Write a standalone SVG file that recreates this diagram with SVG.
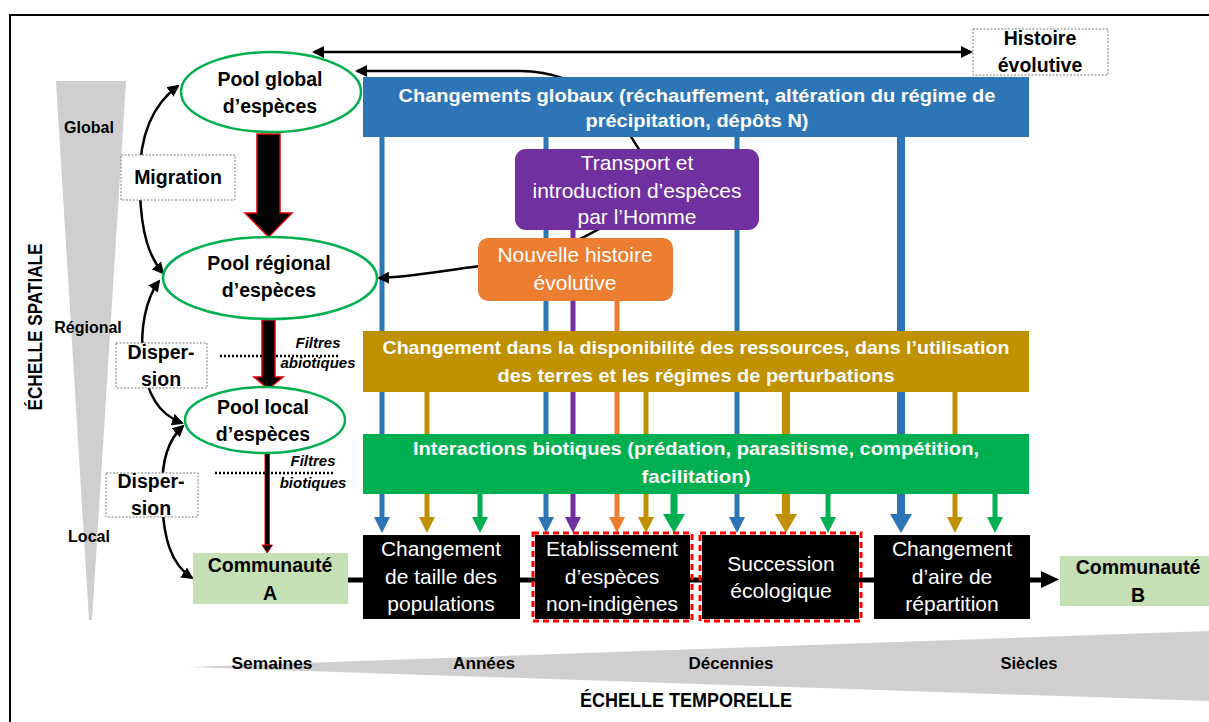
<svg xmlns="http://www.w3.org/2000/svg" width="1209" height="722" viewBox="0 0 1209 722">
<style>
text{font-family:"Liberation Sans",Arial,sans-serif;}
.b{font-weight:bold;font-size:19.5px;fill:#000;text-anchor:middle;}
.bw{font-weight:bold;font-size:19px;fill:#fff;text-anchor:middle;}
.rw{font-size:21px;fill:#fff;text-anchor:middle;}
.sm{font-weight:bold;font-size:16px;fill:#000;text-anchor:middle;}
.it{font-weight:bold;font-style:italic;font-size:15px;fill:#000;text-anchor:middle;}
.ell{fill:#fff;stroke:#00b050;stroke-width:2.5;}
.lbl{fill:#fff;stroke:#7f7f7f;stroke-width:1;stroke-dasharray:2,1.5;}
.blk{fill:#000;}
.red{fill:none;stroke:#ff0000;stroke-width:3;stroke-dasharray:6,4;}
.cur{fill:none;stroke:#000;stroke-width:2.5;}
.dot{stroke:#000;stroke-width:2.5;stroke-dasharray:2,2;}
.blue{stroke:#2e75b6;fill:#2e75b6;}
.purp{stroke:#7030a0;fill:#7030a0;}
.ora{stroke:#ed7d31;fill:#ed7d31;}
.gold{stroke:#bf9000;fill:#bf9000;}
.grn{stroke:#00b050;fill:#00b050;}
.blockarrow{fill:#000;stroke:#e00000;stroke-width:1.5;}
</style>
<defs>
<marker id="ah" markerUnits="userSpaceOnUse" markerWidth="12" markerHeight="12" refX="10" refY="6" orient="auto-start-reverse" viewBox="0 0 12 12">
<path d="M0,0 L12,6 L0,12 z" fill="#000"/>
</marker>
</defs>

<!-- frame -->
<rect x="10" y="15" width="1215" height="720" fill="none" stroke="#000" stroke-width="2"/>

<!-- spatial scale -->
<g id="spatial-scale">
<polygon points="56,81 126,81 92,620 89,620" fill="#d0cece"/>
<text class="sm" x="89" y="133">Global</text>
<text class="sm" x="88" y="333">Régional</text>
<text class="sm" x="89" y="542">Local</text>
<text transform="translate(42,327) rotate(-90)" font-weight="bold" font-size="20" text-anchor="middle" textLength="167" lengthAdjust="spacingAndGlyphs">ÉCHELLE SPATIALE</text>
</g>

<!-- temporal scale -->
<g id="temporal-scale">
<polygon points="190,667 1209,631 1209,701" fill="#d0cece"/>
<text class="sm" x="272" y="669" font-size="17" textLength="81" lengthAdjust="spacingAndGlyphs">Semaines</text>
<text class="sm" x="484" y="669" font-size="17" textLength="62" lengthAdjust="spacingAndGlyphs">Années</text>
<text class="sm" x="731" y="669" font-size="17" textLength="85" lengthAdjust="spacingAndGlyphs">Décennies</text>
<text class="sm" x="1029" y="669" font-size="17" textLength="57" lengthAdjust="spacingAndGlyphs">Siècles</text>
<text x="686" y="707" font-weight="bold" font-size="20" text-anchor="middle" textLength="212" lengthAdjust="spacingAndGlyphs">ÉCHELLE TEMPORELLE</text>
</g>

<!-- connectors -->
<g id="connectors">
<!-- main timeline -->
<line x1="348" y1="580" x2="1043" y2="580" stroke="#000" stroke-width="5"/>
<polygon points="1041,571 1059,579.5 1041,588" fill="#000"/>

<!-- vertical coloured arrows -->
<g class="blue">
<line x1="382" y1="137" x2="382" y2="517" stroke-width="5"/><polygon points="374,517 390,517 382,533" stroke="none"/>
<line x1="546" y1="137" x2="546" y2="517" stroke-width="5"/><polygon points="538,517 554,517 546,533" stroke="none"/>
<line x1="737" y1="137" x2="737" y2="517" stroke-width="5"/><polygon points="729,517 745,517 737,533" stroke="none"/>
<line x1="901" y1="137" x2="901" y2="515" stroke-width="8"/><polygon points="890,514 912,514 901,533" stroke="none"/>
</g>
<g class="purp">
<line x1="573" y1="230" x2="573" y2="517" stroke-width="5"/><polygon points="565,517 581,517 573,533" stroke="none"/>
</g>
<g class="ora">
<line x1="617" y1="300" x2="617" y2="517" stroke-width="5"/><polygon points="609,517 625,517 617,533" stroke="none"/>
</g>
<g class="gold">
<line x1="427" y1="392" x2="427" y2="517" stroke-width="5"/><polygon points="419,517 435,517 427,533" stroke="none"/>
<line x1="646" y1="392" x2="646" y2="517" stroke-width="5"/><polygon points="638,517 654,517 646,533" stroke="none"/>
<line x1="786" y1="392" x2="786" y2="515" stroke-width="8"/><polygon points="775,514 797,514 786,533" stroke="none"/>
<line x1="955" y1="392" x2="955" y2="517" stroke-width="5"/><polygon points="947,517 963,517 955,533" stroke="none"/>
</g>
<g class="grn">
<line x1="480" y1="494" x2="480" y2="517" stroke-width="5"/><polygon points="472,517 488,517 480,533" stroke="none"/>
<line x1="674" y1="494" x2="674" y2="515" stroke-width="7"/><polygon points="663,514 685,514 674,533" stroke="none"/>
<line x1="828" y1="494" x2="828" y2="517" stroke-width="5"/><polygon points="820,517 836,517 828,533" stroke="none"/>
<line x1="995" y1="494" x2="995" y2="517" stroke-width="5"/><polygon points="987,517 1003,517 995,533" stroke="none"/>
</g>

<!-- black arrows -->
<line class="cur" x1="314" y1="52" x2="971" y2="52" marker-start="url(#ah)" marker-end="url(#ah)"/>
<path class="cur" d="M648,165 C620,115 590,72 520,71 L357,71" marker-end="url(#ah)"/>
<path class="cur" d="M612,222 C595,232 580,238 560,250"/>
<path class="cur" d="M480,266 C440,271 410,277 379,278" marker-end="url(#ah)"/>

<path class="cur" d="M178,86 C145,110 138,150 140,190 C141,235 150,258 163,273" marker-start="url(#ah)" marker-end="url(#ah)"/>
<path class="cur" d="M159,281 C145,300 140,330 143,360 C146,395 160,415 182,423" marker-start="url(#ah)" marker-end="url(#ah)"/>
<path class="cur" d="M183,426 C168,440 162,460 162,490 C162,540 172,565 192,578" marker-start="url(#ah)" marker-end="url(#ah)"/>

<!-- block arrows -->
<polygon class="blockarrow" points="257,134 280,134 280,213 292,213 268.5,237 245,213 257,213"/>
<polygon class="blockarrow" points="262,320 275,320 275,377 283,377 268.5,389 254,377 262,377"/>
<rect x="265" y="453" width="4.5" height="92" fill="#000" stroke="#e00000" stroke-width="1"/>
<polygon points="262,545 272.5,545 267.2,553" fill="#000" stroke="#e00000" stroke-width="1"/>

<!-- filter dotted lines -->
<line class="dot" x1="220" y1="356" x2="340" y2="356"/>
<line class="dot" x1="215" y1="473" x2="335" y2="473"/>
</g>

<!-- filter labels -->
<g id="filtres-abiotiques">
<text class="it" x="318" y="348">Filtres</text>
<text class="it" x="318" y="368">abiotiques</text>
</g>
<g id="filtres-biotiques">
<text class="it" x="313" y="466">Filtres</text>
<text class="it" x="313" y="488">biotiques</text>
</g>

<!-- pools -->
<g id="pool-global">
<ellipse class="ell" cx="271" cy="92" rx="90" ry="40"/>
<text class="b" x="270" y="86">Pool global</text>
<text class="b" x="270" y="113">d’espèces</text>
</g>
<g id="pool-regional">
<ellipse class="ell" cx="270" cy="278" rx="107" ry="41"/>
<text class="b" x="269" y="270">Pool régional</text>
<text class="b" x="269" y="297">d’espèces</text>
</g>
<g id="pool-local">
<ellipse class="ell" cx="265" cy="420" rx="80" ry="33"/>
<text class="b" x="263" y="414">Pool local</text>
<text class="b" x="263" y="441">d’espèces</text>
</g>

<!-- label boxes -->
<g id="migration">
<rect class="lbl" x="121" y="155" width="114" height="45"/>
<text class="b" x="178" y="184">Migration</text>
</g>
<g id="dispersion-1">
<rect class="lbl" x="116" y="343" width="91" height="45"/>
<text class="b" x="161" y="359">Disper-</text>
<text class="b" x="161" y="386">sion</text>
</g>
<g id="dispersion-2">
<rect class="lbl" x="106" y="473" width="92" height="44"/>
<text class="b" x="151" y="488">Disper-</text>
<text class="b" x="151" y="515">sion</text>
</g>
<g id="histoire-evolutive">
<rect class="lbl" x="973" y="29" width="135" height="46"/>
<text class="b" x="1040" y="45">Histoire</text>
<text class="b" x="1040" y="72">évolutive</text>
</g>

<!-- driver boxes -->
<g id="changements-globaux">
<rect x="363" y="77" width="666" height="60" fill="#2e75b6"/>
<text class="bw" x="697" y="102" textLength="597" lengthAdjust="spacingAndGlyphs">Changements globaux (réchauffement, altération du régime de</text>
<text class="bw" x="697" y="127" textLength="223" lengthAdjust="spacingAndGlyphs">précipitation, dépôts N)</text>
</g>
<g id="transport">
<rect x="515" y="149" width="244" height="81" rx="11" fill="#7030a0"/>
<text class="rw" x="637" y="170">Transport et</text>
<text class="rw" x="637" y="198">introduction d’espèces</text>
<text class="rw" x="637" y="224">par l’Homme</text>
</g>
<g id="nouvelle-histoire">
<rect x="478" y="238" width="195" height="63" rx="10" fill="#ed7d31"/>
<text class="rw" x="575" y="262">Nouvelle histoire</text>
<text class="rw" x="575" y="290">évolutive</text>
</g>
<g id="ressources">
<rect x="363" y="331" width="666" height="61" fill="#bf9000"/>
<text class="bw" x="696" y="354" textLength="627" lengthAdjust="spacingAndGlyphs">Changement dans la disponibilité des ressources, dans l’utilisation</text>
<text class="bw" x="696" y="382" textLength="397" lengthAdjust="spacingAndGlyphs">des terres et les régimes de perturbations</text>
</g>
<g id="interactions">
<rect x="363" y="434" width="666" height="60" fill="#00b050"/>
<text class="bw" x="696" y="455" textLength="566" lengthAdjust="spacingAndGlyphs">Interactions biotiques (prédation, parasitisme, compétition,</text>
<text class="bw" x="696" y="483" textLength="109" lengthAdjust="spacingAndGlyphs">facilitation)</text>
</g>

<!-- communities -->
<g id="communaute-a">
<rect x="193" y="553" width="155" height="51" fill="#c5e0b4"/>
<text class="b" x="270" y="572">Communauté</text>
<text class="b" x="270" y="600">A</text>
</g>
<g id="communaute-b">
<rect x="1060" y="556" width="155" height="50" fill="#c5e0b4"/>
<text class="b" x="1138" y="574">Communauté</text>
<text class="b" x="1138" y="602">B</text>
</g>

<!-- process boxes -->
<g id="taille-populations">
<rect class="blk" x="363" y="535" width="157" height="84"/>
<text class="rw" x="441" y="556">Changement</text>
<text class="rw" x="441" y="584">de taille des</text>
<text class="rw" x="441" y="611">populations</text>
</g>
<g id="etablissement">
<rect class="blk" x="535" y="535" width="155" height="84"/>
<rect class="red" x="533" y="533" width="159" height="88"/>
<text class="rw" x="612" y="556">Etablissement</text>
<text class="rw" x="612" y="584">d’espèces</text>
<text class="rw" x="612" y="611">non-indigènes</text>
</g>
<g id="succession">
<rect class="blk" x="702" y="535" width="157" height="84"/>
<rect class="red" x="700" y="533" width="161" height="88"/>
<text class="rw" x="781" y="571">Succession</text>
<text class="rw" x="781" y="598">écologique</text>
</g>
<g id="aire-repartition">
<rect class="blk" x="874" y="535" width="156" height="84"/>
<text class="rw" x="952" y="556">Changement</text>
<text class="rw" x="952" y="584">d’aire de</text>
<text class="rw" x="952" y="611">répartition</text>
</g>
</svg>
